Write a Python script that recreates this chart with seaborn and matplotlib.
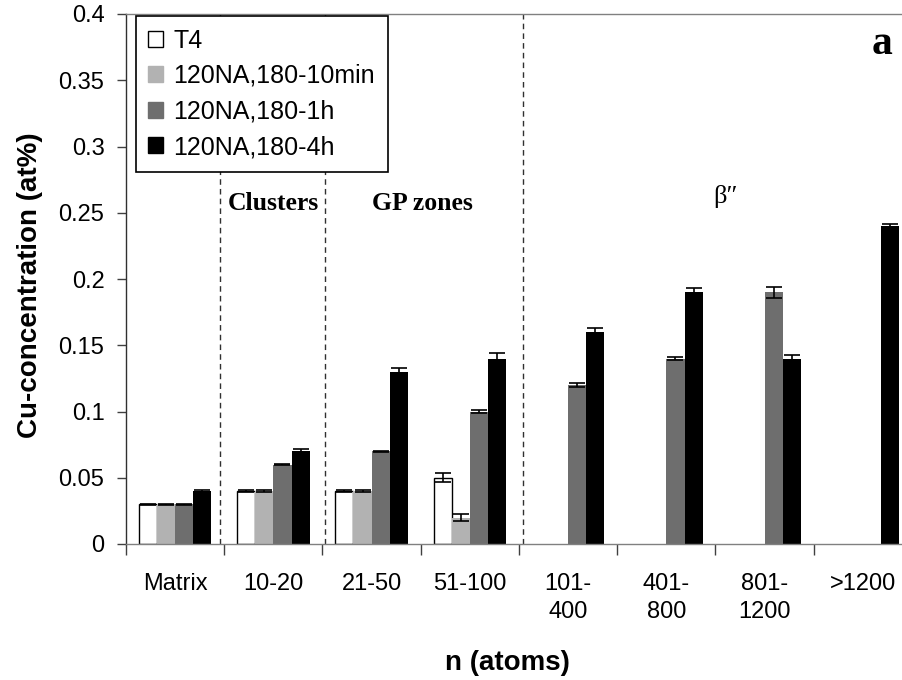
import numpy as np
import pandas as pd
import matplotlib
matplotlib.use("Agg")
import matplotlib.pyplot as plt
from matplotlib.patches import Patch
from matplotlib.container import BarContainer
import seaborn as sns

# Size classes (number of atoms) and heat-treatment series
categories = ["Matrix", "10-20", "21-50", "51-100", "101-\n400", "401-\n800", "801-\n1200", ">1200"]
series = ["T4", "120NA,180-10min", "120NA,180-1h", "120NA,180-4h"]

nan = np.nan
t4      = [0.03, 0.04, 0.04, 0.05, nan, nan, nan, nan]
na_10m  = [0.03, 0.04, 0.04, 0.02, nan, nan, nan, nan]
na_1h   = [0.03, 0.06, 0.07, 0.10, 0.12, 0.14, 0.19, nan]
na_4h   = [0.04, 0.07, 0.13, 0.14, 0.16, 0.19, 0.14, 0.24]

# Half-widths of the error bars
t4_err     = [0.0004, 0.0004, 0.0004, 0.0035, nan, nan, nan, nan]
na_10m_err = [0.0004, 0.0004, 0.0004, 0.0025, nan, nan, nan, nan]
na_1h_err  = [0.0004, 0.0005, 0.0005, 0.0010, 0.0015, 0.0012, 0.0040, nan]
na_4h_err  = [0.0006, 0.0015, 0.0030, 0.0045, 0.0030, 0.0030, 0.0028, 0.0012]

y_ticks = [0, 0.05, 0.1, 0.15, 0.2, 0.25, 0.3, 0.35, 0.4]
y_tick_labels = ["0", "0.05", "0.1", "0.15", "0.2", "0.25", "0.3", "0.35", "0.4"]

colors = ["#ffffff", "#b2b2b2", "#6e6e6e", "#000000"]

values = [t4, na_10m, na_1h, na_4h]
errors = [t4_err, na_10m_err, na_1h_err, na_4h_err]

df = pd.DataFrame({
    "n": np.tile(categories, len(series)),
    "series": np.repeat(series, len(categories)),
    "cu": np.concatenate(values),
})

sns.set_style("white")
plt.rcParams["font.family"] = ["Liberation Sans", "DejaVu Sans"]
plt.rcParams["text.color"] = "black"
plt.rcParams["axes.labelcolor"] = "black"
plt.rcParams["xtick.color"] = "black"
plt.rcParams["ytick.color"] = "black"

fig = plt.figure(figsize=(9.02, 6.8), dpi=100)
ax = fig.add_axes([126 / 902, 1 - 544 / 680, 786 / 902, 530 / 680])

sns.barplot(data=df, x="n", y="cu", hue="series", order=categories,
            hue_order=series, palette=colors, width=0.74, errorbar=None,
            legend=False, saturation=1, ax=ax, linewidth=0)

# Outline the white bars and add the error bars
bar_containers = [c for c in ax.containers if isinstance(c, BarContainer)]
for h, cont in enumerate(bar_containers):
    for bar in cont:
        if bar is None:
            continue
        cx = bar.get_x() + bar.get_width() / 2
        ci = int(round(cx))
        if h == 0:
            bar.set_edgecolor("black")
            bar.set_linewidth(1.0)
        err = errors[h][ci]
        if not np.isnan(err) and not np.isnan(bar.get_height()):
            ax.errorbar(cx, bar.get_height(), yerr=err, fmt="none",
                        ecolor="black", elinewidth=1.2, capsize=5.5,
                        capthick=1.2, zorder=5)

ax.set_xlim(-0.5, len(categories) - 0.5)
ax.set_ylim(0, 0.4)
ax.set_yticks(y_ticks)
ax.set_yticklabels(y_tick_labels)

# Category boundaries as x ticks, labels centred in each category
ax.set_xticks(np.arange(len(categories)) - 0.5, minor=False)
ax.set_xticklabels([])
ax.set_xticks(np.arange(len(categories)), minor=True)
ax.set_xticklabels(categories, minor=True, fontsize=17, va="top", linespacing=1.35)
ax.tick_params(axis="x", which="major", direction="out", length=8,
               width=1, color="#404040", bottom=True)
ax.tick_params(axis="x", which="minor", length=0, pad=21)
ax.tick_params(axis="y", direction="out", length=6.5, width=1,
               color="#404040", left=True, labelsize=17, pad=9)

ax.spines["left"].set_color("#303030")
ax.spines["bottom"].set_color("#808080")
ax.spines["top"].set_color("#808080")
ax.spines["right"].set_visible(False)
for s in ax.spines.values():
    s.set_linewidth(1.0)

# Region separators
for xv in [0.46, 1.53, 3.54]:
    ax.axvline(xv, color="#303030", linestyle=(0, (4, 3)), linewidth=1.0, zorder=1)

ax.set_ylabel("Cu-concentration (at%)", fontsize=20, fontweight="bold")
ax.yaxis.set_label_coords(-96 / 786, 0.489)
ax.yaxis.label.set_verticalalignment("center")
ax.set_xlabel("n (atoms)", fontsize=20, fontweight="bold")
ax.xaxis.set_label_coords(381 / 786, -119 / 530)
ax.xaxis.label.set_verticalalignment("center")

serif = ["Liberation Serif", "DejaVu Serif"]
ax.text(1.0, 0.257, "Clusters", family=serif, fontweight="bold", fontsize=18.5,
        ha="center", va="center")
ax.text(2.52, 0.257, "GP zones", family=serif, fontweight="bold", fontsize=18.5,
        ha="center", va="center")
ax.text(5.6, 0.262, "β″", family=serif, fontsize=19, ha="center", va="center")
ax.text(7.2, 0.377, "a", family=serif, fontweight="bold", fontsize=30,
        ha="center", va="center")

handles = [Patch(facecolor=c, edgecolor="black" if i == 0 else c, linewidth=1.0)
           for i, c in enumerate(colors)]
leg = ax.legend(handles, series, loc="upper left",
                bbox_to_anchor=(10 / 786, 1 - 2 / 530), borderaxespad=0,
                fontsize=18, frameon=True, fancybox=False, framealpha=1,
                edgecolor="black", handlelength=0.6, handleheight=0.6,
                handletextpad=0.4, labelspacing=0.46, borderpad=0.5)
leg.get_frame().set_linewidth(1.2)
leg.set_zorder(10)

fig.savefig("out.png", dpi=100)
